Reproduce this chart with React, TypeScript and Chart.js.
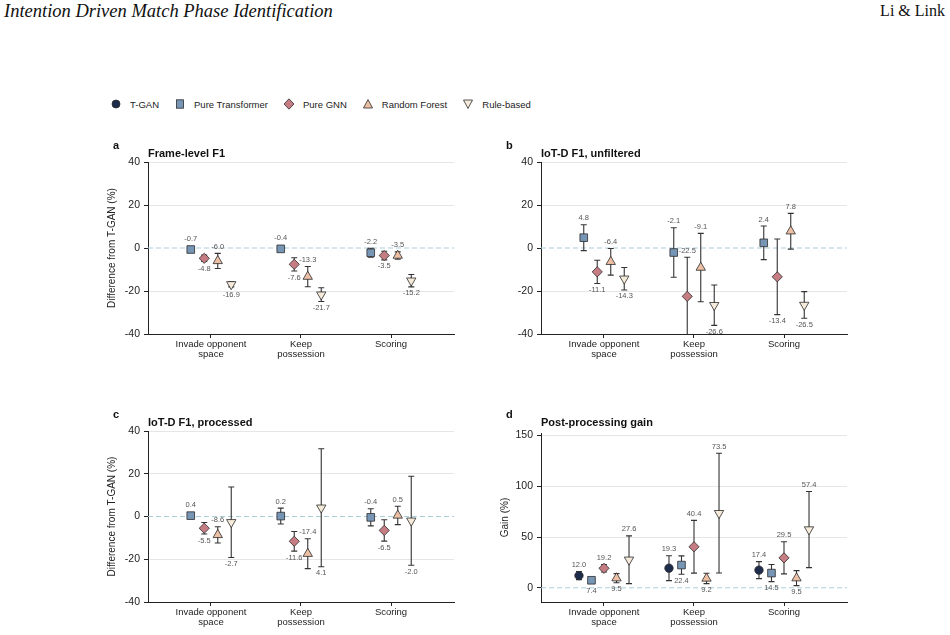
import React, { useEffect, useRef } from "react";
import { Chart, registerables } from "chart.js";

Chart.register(...registerables);

const SANS = "'Liberation Sans', Arial, Helvetica, sans-serif";
const SERIF = "'Liberation Serif', 'Times New Roman', serif";

// x-axis categories (multi-line tick labels)
const categoryLabels: string[][] = [
  ["Invade opponent", "space"],
  ["Keep", "possession"],
  ["Scoring"],
];

const modelNames = ["T-GAN", "Pure Transformer", "Pure GNN", "Random Forest", "Rule-based"];
const modelColors = ["#1e2c4b", "#7795b4", "#c57d83", "#edc0a6", "#f6ebda"];

// a — Frame-level F1, difference from T-GAN (%)
const frameTransformer = [-0.7, -0.4, -2.2];
const frameTransformerErr = [0.6, 0.6, 2.1];
const frameGnn = [-4.8, -7.6, -3.5];
const frameGnnErr = [1.5, 3.1, 2.0];
const frameForest = [-6.0, -13.3, -3.5];
const frameForestErr = [3.5, 4.7, 1.7];
const frameRule = [-16.9, -21.7, -15.2];
const frameRuleErr = [1.2, 3.2, 2.9];

// b — IoT-D F1, unfiltered, difference from T-GAN (%)
const rawTransformer = [4.8, -2.1, 2.4];
const rawTransformerErr = [6.0, 11.5, 7.8];
const rawGnn = [-11.1, -22.5, -13.4];
const rawGnnErr = [5.4, 18.2, 17.6];
const rawForest = [-6.4, -9.1, 7.8];
const rawForestErr = [6.2, 15.9, 8.3];
const rawRule = [-14.3, -26.6, -26.5];
const rawRuleErr = [5.2, 9.4, 6.2];

// c — IoT-D F1, processed, difference from T-GAN (%)
const procTransformer = [0.4, 0.2, -0.4];
const procTransformerErr = [0.8, 3.7, 4.0];
const procGnn = [-5.5, -11.6, -6.5];
const procGnnErr = [2.7, 4.6, 5.0];
const procForest = [-8.6, -17.4, 0.5];
const procForestErr = [3.8, 7.0, 4.3];
const procRule = [-2.7, 4.1, -2.0];
const procRuleErr = [16.5, 27.6, 20.8];

// d — post-processing gain (%)
const gainTgan = [12.0, 19.3, 17.4];
const gainTganErr = [4.0, 12.2, 8.4];
const gainTransformer = [7.4, 22.4, 14.5];
const gainTransformerErr = [2.0, 9.0, 8.4];
const gainGnn = [19.2, 40.4, 29.5];
const gainGnnErr = [3.7, 26.0, 15.8];
const gainForest = [9.5, 9.2, 9.5];
const gainForestErr = [4.5, 5.1, 7.4];
const gainRule = [27.6, 73.5, 57.4];
const gainRuleErr = [23.5, 59.0, 37.5];

const diffTicks = [-40, -20, 0, 20, 40];
const gainTicks = [0, 50, 100, 150];

type Series = { model: number; values: number[]; errors: number[] };
type Rect = { x: number; y: number; w: number; h: number };
type Area = { left: number; top: number; right: number; bottom: number };
type Panel = {
  letter: string;
  title: string;
  yTitle: string;
  yMin: number;
  yMax: number;
  yTicks: number[];
  spacing: number;
  series: Series[];
  box: Rect;
  area: Area;
  titleY: number;
  letterY: number;
};

const pointStyles = ["circle", "rect", "rectRot", "triangle", "triangle"];
const pointRadii = [4.2, 5.4, 5.1, 5.4, 5.4];
const pointRotations = [0, 0, 0, 0, 180];

const panels: Panel[] = [
  {
    letter: "a",
    title: "Frame-level F1",
    yTitle: "Difference from T-GAN (%)",
    yMin: -40,
    yMax: 40,
    yTicks: diffTicks,
    spacing: 0.15,
    series: [
      { model: 1, values: frameTransformer, errors: frameTransformerErr },
      { model: 2, values: frameGnn, errors: frameGnnErr },
      { model: 3, values: frameForest, errors: frameForestErr },
      { model: 4, values: frameRule, errors: frameRuleErr },
    ],
    box: { x: 100, y: 136, w: 370, h: 234 },
    area: { left: 148, top: 162, right: 454, bottom: 334 },
    titleY: 154,
    letterY: 146,
  },
  {
    letter: "b",
    title: "IoT-D F1, unfiltered",
    yTitle: "",
    yMin: -40,
    yMax: 40,
    yTicks: diffTicks,
    spacing: 0.15,
    series: [
      { model: 1, values: rawTransformer, errors: rawTransformerErr },
      { model: 2, values: rawGnn, errors: rawGnnErr },
      { model: 3, values: rawForest, errors: rawForestErr },
      { model: 4, values: rawRule, errors: rawRuleErr },
    ],
    box: { x: 495, y: 136, w: 370, h: 234 },
    area: { left: 541, top: 162, right: 847, bottom: 334 },
    titleY: 154,
    letterY: 146,
  },
  {
    letter: "c",
    title: "IoT-D F1, processed",
    yTitle: "Difference from T-GAN (%)",
    yMin: -40,
    yMax: 40,
    yTicks: diffTicks,
    spacing: 0.15,
    series: [
      { model: 1, values: procTransformer, errors: procTransformerErr },
      { model: 2, values: procGnn, errors: procGnnErr },
      { model: 3, values: procForest, errors: procForestErr },
      { model: 4, values: procRule, errors: procRuleErr },
    ],
    box: { x: 100, y: 405, w: 370, h: 230 },
    area: { left: 148, top: 431, right: 454, bottom: 602 },
    titleY: 423,
    letterY: 415,
  },
  {
    letter: "d",
    title: "Post-processing gain",
    yTitle: "Gain (%)",
    yMin: -14,
    yMax: 152.5,
    yTicks: gainTicks,
    spacing: 0.139,
    series: [
      { model: 0, values: gainTgan, errors: gainTganErr },
      { model: 1, values: gainTransformer, errors: gainTransformerErr },
      { model: 2, values: gainGnn, errors: gainGnnErr },
      { model: 3, values: gainForest, errors: gainForestErr },
      { model: 4, values: gainRule, errors: gainRuleErr },
    ],
    box: { x: 495, y: 405, w: 370, h: 230 },
    area: { left: 541, top: 433, right: 847, bottom: 602 },
    titleY: 423,
    letterY: 415,
  },
];

function PanelChart({ panel }: { panel: Panel }) {
  const ref = useRef<HTMLCanvasElement | null>(null);

  useEffect(() => {
    const canvas = ref.current;
    if (!canvas) return;
    const { box, area } = panel;
    const n = panel.series.length;

    const datasets = panel.series.map((s, i) => {
      const off = (i - (n - 1) / 2) * panel.spacing;
      return {
        type: "scatter" as const,
        label: modelNames[s.model],
        data: s.values.map((v, c) => ({ x: c + off, y: v, err: s.errors[c] })),
        pointStyle: pointStyles[s.model],
        pointRadius: pointRadii[s.model],
        pointRotation: pointRotations[s.model],
        pointBackgroundColor: modelColors[s.model],
        pointBorderColor: "#2b2b2b",
        pointBorderWidth: 0.8,
        showLine: false,
      };
    });

    const decorations = {
      id: "panelDecorations",
      beforeDatasetsDraw(chart: any) {
        const { ctx, chartArea: ca, scales } = chart;
        const x = scales.x;
        const y = scales.y;
        ctx.save();
        // dashed reference line at zero
        const y0 = y.getPixelForValue(0);
        ctx.strokeStyle = "#a9cfdd";
        ctx.lineWidth = 1;
        ctx.setLineDash([5, 3]);
        ctx.beginPath();
        ctx.moveTo(ca.left, y0);
        ctx.lineTo(ca.right, y0);
        ctx.stroke();
        ctx.setLineDash([]);

        // error bars with caps
        ctx.beginPath();
        ctx.rect(ca.left, ca.top - 1, ca.right - ca.left, ca.bottom - ca.top + 1);
        ctx.clip();
        ctx.strokeStyle = "#333333";
        ctx.lineWidth = 1.1;
        chart.data.datasets.forEach((ds: any) => {
          ds.data.forEach((p: any) => {
            const px = x.getPixelForValue(p.x);
            const top = y.getPixelForValue(p.y + p.err);
            const bot = y.getPixelForValue(p.y - p.err);
            ctx.beginPath();
            ctx.moveTo(px, top);
            ctx.lineTo(px, bot);
            ctx.moveTo(px - 3, top);
            ctx.lineTo(px + 3, top);
            ctx.moveTo(px - 3, bot);
            ctx.lineTo(px + 3, bot);
            ctx.stroke();
          });
        });
        ctx.restore();
      },
      afterDatasetsDraw(chart: any) {
        const { ctx, chartArea: ca, scales } = chart;
        const x = scales.x;
        const y = scales.y;
        ctx.save();
        // value labels, alternating above / below the error bar
        ctx.font = `7.5px ${SANS}`;
        ctx.fillStyle = "#555555";
        ctx.textAlign = "center";
        ctx.textBaseline = "middle";
        chart.data.datasets.forEach((ds: any, i: number) => {
          ds.data.forEach((p: any) => {
            let above = i % 2 === 0;
            if (!above && p.y - p.err < panel.yMin) above = true;
            if (above && p.y + p.err > panel.yMax) above = false;
            const px = x.getPixelForValue(p.x);
            const py = y.getPixelForValue(p.y);
            const ly = above
              ? Math.min(y.getPixelForValue(p.y + p.err), py - 4) - 6.5
              : Math.max(y.getPixelForValue(p.y - p.err), py + 4) + 6.5;
            ctx.fillText(p.y.toFixed(1), px, ly);
          });
        });

        // panel letter and title
        const ox = panel.box.x;
        const oy = panel.box.y;
        ctx.fillStyle = "#111111";
        ctx.textAlign = "left";
        ctx.font = `bold 11px ${SANS}`;
        ctx.fillText(panel.letter, ca.left - 35, panel.letterY - oy);
        ctx.fillText(panel.title, ca.left, panel.titleY - oy);

        // y-axis title
        if (panel.yTitle) {
          ctx.save();
          ctx.font = `10px ${SANS}`;
          ctx.fillStyle = "#222222";
          ctx.textAlign = "center";
          ctx.translate(112 - ox + (panel.area.left - 148), (ca.top + ca.bottom) / 2);
          ctx.rotate(-Math.PI / 2);
          ctx.fillText(panel.yTitle, 0, 0);
          ctx.restore();
        }
        ctx.restore();
      },
    };

    const chart = new Chart(canvas, {
      type: "scatter",
      data: { datasets: datasets as any },
      options: {
        responsive: false,
        maintainAspectRatio: false,
        animation: false,
        events: [],
        layout: {
          padding: {
            left: 0,
            top: area.top - box.y,
            right: box.x + box.w - area.right,
            bottom: 0,
          },
        },
        plugins: {
          legend: { display: false },
          tooltip: { enabled: false },
          title: { display: false },
        },
        scales: {
          x: {
            type: "linear",
            min: -0.7,
            max: 2.7,
            afterBuildTicks: (s: any) => {
              s.ticks = categoryLabels.map((_, i) => ({ value: i }));
            },
            afterFit: (s: any) => {
              s.height = box.y + box.h - area.bottom;
            },
            ticks: {
              autoSkip: false,
              maxRotation: 0,
              padding: 2,
              color: "#222222",
              font: { family: SANS, size: 9.5, lineHeight: 1.0 },
              callback: (v: any) => categoryLabels[Math.round(Number(v))] as any,
            },
            grid: {
              display: true,
              drawOnChartArea: false,
              drawTicks: true,
              tickLength: 4,
              tickColor: "#222222",
            },
            border: { display: true, color: "#222222", width: 1 },
          },
          y: {
            type: "linear",
            min: panel.yMin,
            max: panel.yMax,
            afterBuildTicks: (s: any) => {
              s.ticks = panel.yTicks.map((v) => ({ value: v }));
            },
            afterFit: (s: any) => {
              s.width = area.left - box.x;
            },
            ticks: {
              padding: 4,
              color: "#222222",
              font: { family: SANS, size: 10.5 },
              callback: (v: any) => String(v),
            },
            grid: {
              display: true,
              drawOnChartArea: true,
              drawTicks: true,
              tickLength: 4,
              tickColor: "#222222",
              color: (c: any) => (c.tick && c.tick.value === 0 ? "rgba(0,0,0,0)" : "#e6e6e6"),
            },
            border: { display: true, color: "#222222", width: 1 },
          },
        },
      },
      plugins: [decorations],
    } as any);

    return () => chart.destroy();
  }, [panel]);

  return (
    <canvas
      ref={ref}
      width={panel.box.w}
      height={panel.box.h}
      style={{
        position: "absolute",
        left: panel.box.x,
        top: panel.box.y,
        width: panel.box.w,
        height: panel.box.h,
      }}
    />
  );
}

function LegendMarker({ model }: { model: number }) {
  const fill = modelColors[model];
  const stroke = "#2b2b2b";
  let shape: React.ReactNode = null;
  if (model === 0) shape = <circle cx={6} cy={6} r={4} fill={fill} stroke={stroke} strokeWidth={0.8} />;
  if (model === 1) shape = <rect x={2.5} y={1.8} width={7} height={8.4} fill={fill} stroke={stroke} strokeWidth={0.8} />;
  if (model === 2) shape = <polygon points="6,0.8 11,6 6,11.2 1,6" fill={fill} stroke={stroke} strokeWidth={0.8} />;
  if (model === 3) shape = <polygon points="6,1.5 10.5,10 1.5,10" fill={fill} stroke={stroke} strokeWidth={0.8} />;
  if (model === 4) shape = <polygon points="1.5,2 10.5,2 6,10.5" fill={fill} stroke={stroke} strokeWidth={0.8} />;
  return (
    <svg width={12} height={12} style={{ display: "block" }}>
      {shape}
    </svg>
  );
}

export default function App() {
  return (
    <div
      style={{
        position: "absolute",
        left: 0,
        top: 0,
        width: 950,
        height: 635,
        background: "#ffffff",
        overflow: "hidden",
      }}
    >
      <div
        style={{
          position: "absolute",
          left: 4,
          top: 1,
          fontFamily: SERIF,
          fontStyle: "italic",
          fontSize: 18.5,
          color: "#111",
          whiteSpace: "nowrap",
        }}
      >
        Intention Driven Match Phase Identification
      </div>
      <div
        style={{
          position: "absolute",
          right: 5,
          top: 2,
          fontFamily: SERIF,
          fontSize: 16,
          color: "#111",
          whiteSpace: "nowrap",
        }}
      >
        Li &amp; Link
      </div>

      <div
        style={{
          position: "absolute",
          left: 110,
          top: 98,
          display: "flex",
          alignItems: "center",
          fontFamily: SANS,
          fontSize: 9.5,
          color: "#222",
          whiteSpace: "nowrap",
        }}
      >
        {modelNames.map((name, i) => (
          <div key={name} style={{ display: "flex", alignItems: "center", marginRight: 15 }}>
            <LegendMarker model={i} />
            <span style={{ marginLeft: 8 }}>{name}</span>
          </div>
        ))}
      </div>

      {panels.map((p) => (
        <PanelChart key={p.letter} panel={p} />
      ))}
    </div>
  );
}
